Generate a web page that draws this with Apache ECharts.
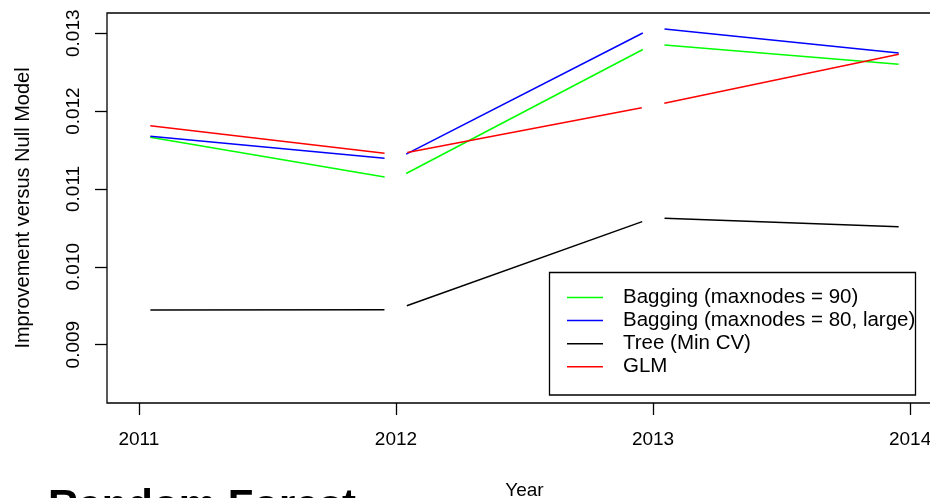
<!DOCTYPE html>
<html>
<head>
<meta charset="utf-8">
<script src="https://cdn.jsdelivr.net/npm/echarts@6/dist/echarts.min.js"></script>
<style>
html,body{margin:0;padding:0;background:#fff;}
#chart{width:930px;height:498px;}
</style>
</head>
<body>
<div id="chart"></div>
<script>
var years = [2011, 2012, 2013, 2014];
var bagging90 = [0.01169, 0.01113, 0.01286, 0.01259];
var bagging80 = [0.01169, 0.01138, 0.01307, 0.01273];
var treeMinCV = [0.009443, 0.009449, 0.01063, 0.01051];
var glm = [0.01183, 0.01144, 0.01207, 0.01276];
var seriesNames = ['Bagging (maxnodes = 90)', 'Bagging (maxnodes = 80, large)', 'Tree (Min CV)', 'GLM'];
var seriesColors = ['#00ff00', '#0000ff', '#000000', '#ff0000'];
var seriesValues = [bagging90, bagging80, treeMinCV, glm];
var yTicks = [0.009, 0.010, 0.011, 0.012, 0.013];
var xTicks = [2011, 2012, 2013, 2014];

var FONT = 'Liberation Sans, Arial, Helvetica, sans-serif';
var GAP = 11.5;

function makeSeries(idx) {
  var vals = seriesValues[idx];
  return {
    type: 'custom',
    name: seriesNames[idx],
    coordinateSystem: 'cartesian2d',
    itemStyle: {color: seriesColors[idx]},
    encode: {x: 0, y: 1},
    clip: false,
    data: years.map(function (y, i) { return [y, vals[i]]; }),
    renderItem: function (params, api) {
      var i = params.dataIndex;
      if (i >= years.length - 1) return null;
      var p0 = api.coord([years[i], vals[i]]);
      var p1 = api.coord([years[i + 1], vals[i + 1]]);
      var dx = p1[0] - p0[0], dy = p1[1] - p0[1];
      var len = Math.sqrt(dx * dx + dy * dy);
      var ux = dx / len, uy = dy / len;
      return {
        type: 'line',
        shape: {
          x1: p0[0] + ux * GAP, y1: p0[1] + uy * GAP,
          x2: p1[0] - ux * GAP, y2: p1[1] - uy * GAP
        },
        style: {stroke: seriesColors[idx], lineWidth: 1.5}
      };
    }
  };
}

var legendGraphic = [];
var lgX = 549.5, lgY = 272.5, lgW = 366, lgH = 122.5;
legendGraphic.push({
  type: 'rect', shape: {x: lgX, y: lgY, width: lgW, height: lgH},
  style: {fill: '#fff', stroke: '#000', lineWidth: 1.3}, z: 10
});
seriesNames.forEach(function (n, k) {
  var cy = 297.5 + 23.1 * k;
  legendGraphic.push({
    type: 'line', shape: {x1: 567, y1: cy, x2: 603, y2: cy},
    style: {stroke: seriesColors[k], lineWidth: 1.5}, z: 11
  });
  legendGraphic.push({
    type: 'text', x: 623, y: cy,
    style: {text: n, fill: '#000', font: '20.5px ' + FONT, textVerticalAlign: 'middle', textAlign: 'left'}, z: 11
  });
});
legendGraphic.push({
  type: 'text', x: 48, y: 486,
  style: {text: 'Random Forest', fill: '#000', font: 'bold 42px ' + FONT, textVerticalAlign: 'top', textAlign: 'left'}
});

var chart = echarts.init(document.getElementById('chart'), null, {renderer: 'canvas'});
chart.setOption({
  animation: false,
  backgroundColor: '#fff',
  grid: {left: 107, right: -12, top: 13, bottom: 95, show: true, borderColor: '#000', borderWidth: 1.3, backgroundColor: 'transparent', containLabel: false, outerBoundsMode: 'none'},
  xAxis: {
    type: 'value', min: 2010.876, max: 2014.124,
    name: 'Year', nameLocation: 'middle', nameGap: 78,
    nameTextStyle: {fontFamily: FONT, fontSize: 19, color: '#000'},
    axisLine: {show: false},
    axisTick: {show: true, length: 12, lineStyle: {color: '#000', width: 1.3}, customValues: xTicks},
    axisLabel: {customValues: xTicks, margin: 27, fontFamily: FONT, fontSize: 19, color: '#000', formatter: function (v) { return String(v); }},
    splitLine: {show: false}
  },
  yAxis: {
    type: 'value', min: 0.00825, max: 0.01326,
    name: 'Improvement versus Null Model', nameLocation: 'middle', nameGap: 74, nameRotate: 90,
    nameTextStyle: {fontFamily: FONT, fontSize: 20, color: '#000'},
    axisLine: {show: false},
    axisTick: {show: true, length: 12, lineStyle: {color: '#000', width: 1.3}, customValues: yTicks},
    axisLabel: {customValues: yTicks, rotate: 90, margin: 24, fontFamily: FONT, fontSize: 19, color: '#000', formatter: function (v) { return v.toFixed(3); }},
    splitLine: {show: false}
  },
  series: [makeSeries(0), makeSeries(1), makeSeries(2), makeSeries(3)],
  graphic: legendGraphic
});
</script>
</body>
</html>
